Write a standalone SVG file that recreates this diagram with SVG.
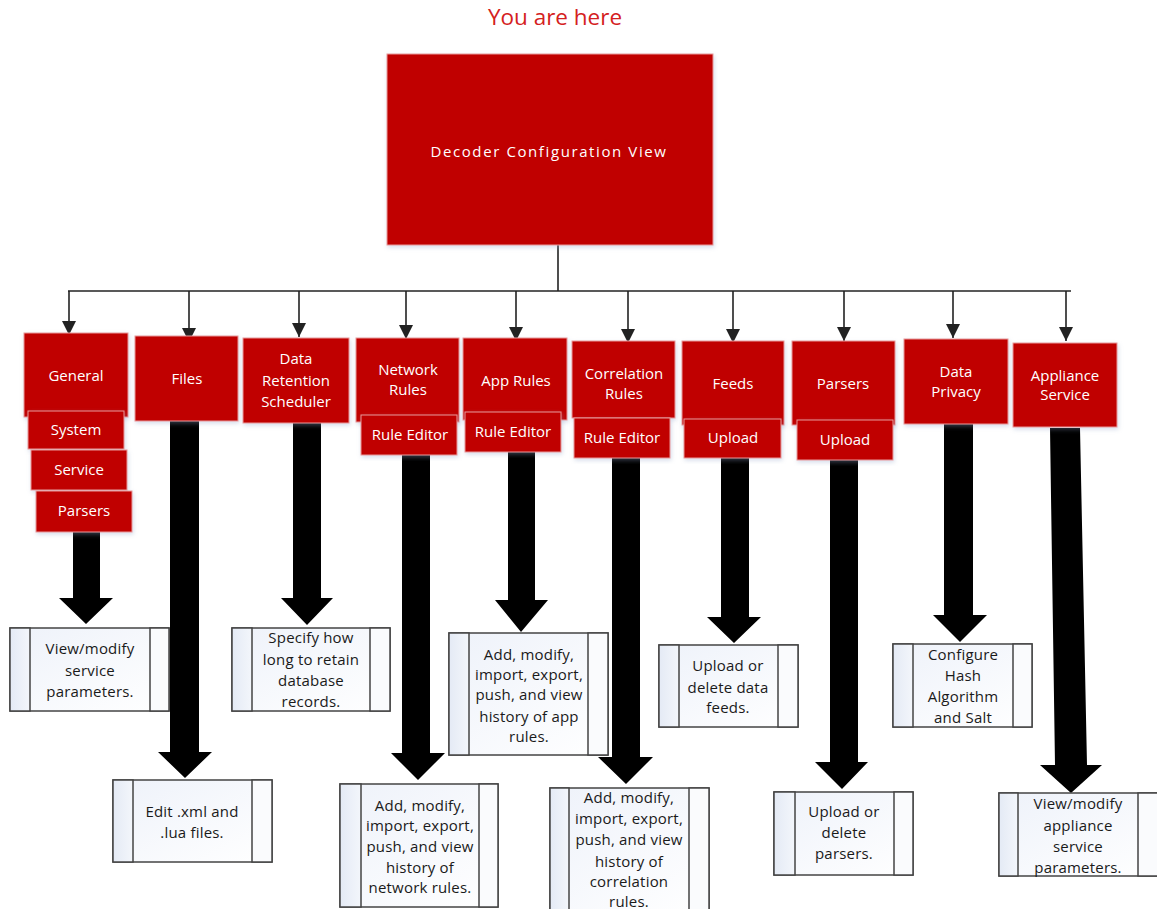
<svg xmlns="http://www.w3.org/2000/svg" width="1157" height="909" viewBox="0 0 1157 909">
<defs>
<marker id="ah" markerWidth="14" markerHeight="14" refX="14" refY="7" orient="auto" markerUnits="userSpaceOnUse">
<path d="M0,0 L14,7 L0,14 Z" fill="#222"/>
</marker>
<linearGradient id="lp" x1="0" y1="0" x2="1" y2="0"><stop offset="0" stop-color="#e4eaf5"/><stop offset="1" stop-color="#f3f6fb"/></linearGradient>
<linearGradient id="mp" x1="0" y1="0" x2="1" y2="1"><stop offset="0" stop-color="#eef2fa"/><stop offset="1" stop-color="#ffffff"/></linearGradient>
<filter id="sh" x="-10%" y="-10%" width="120%" height="125%"><feDropShadow dx="1" dy="2" stdDeviation="2" flood-color="#8aa0c8" flood-opacity="0.35"/></filter>
</defs>
<style>
.red{fill:#c00000;stroke:#e89a9a;stroke-width:1;filter:url(#sh)}
.wt{fill:#ffffff;font-family:"Open Sans","Noto Sans",sans-serif;font-size:15px;text-anchor:middle}
.bt{fill:#1a1a1a;font-family:"Open Sans","Noto Sans",sans-serif;font-size:15px;letter-spacing:0.2px;text-anchor:middle}
.box{fill:url(#mp);stroke:#444;stroke-width:1.5}
.lp{fill:url(#lp);stroke:#444;stroke-width:1.5}
.rp{fill:#fafbfd;stroke:#444;stroke-width:1.5}
.ln{stroke:#222;stroke-width:1.6;fill:none}
.big{fill:#000}
</style>
<rect width="1157" height="909" fill="#ffffff"/>
<text x="555" y="25" font-family="Open Sans, Noto Sans, sans-serif" font-size="22.5" fill="#d42020" text-anchor="middle">You are here</text>

<g id="connectors">
<line class="ln" x1="558" y1="245" x2="558" y2="291"/>
<line class="ln" x1="68" y1="291" x2="1071" y2="291"/>
<line class="ln" x1="69" y1="291" x2="69" y2="335" marker-end="url(#ah)"/>
<line class="ln" x1="189" y1="291" x2="189" y2="342" marker-end="url(#ah)"/>
<line class="ln" x1="299" y1="291" x2="299" y2="337" marker-end="url(#ah)"/>
<line class="ln" x1="406" y1="291" x2="406" y2="339" marker-end="url(#ah)"/>
<line class="ln" x1="516" y1="291" x2="516" y2="341" marker-end="url(#ah)"/>
<line class="ln" x1="628" y1="291" x2="628" y2="343" marker-end="url(#ah)"/>
<line class="ln" x1="733" y1="291" x2="733" y2="343" marker-end="url(#ah)"/>
<line class="ln" x1="844" y1="291" x2="844" y2="341" marker-end="url(#ah)"/>
<line class="ln" x1="953" y1="291" x2="953" y2="338" marker-end="url(#ah)"/>
<line class="ln" x1="1066" y1="291" x2="1066" y2="341" marker-end="url(#ah)"/>
<polygon class="big" points="73,532 100,532 100,598 113,598 86,624 59,598 73,598"/>
<polygon class="big" points="170,421 199,421 199,752 212,752 185,778 158,752 170,752"/>
<polygon class="big" points="293,423 321,423 321,598 333,598 307,625 281,598 293,598"/>
<polygon class="big" points="402,455 430,455 430,753 445,753 418,780 391,753 402,753"/>
<polygon class="big" points="508,452 535,452 535,600 548,600 521,632 495,600 508,600"/>
<polygon class="big" points="612,458 640,458 640,757 653,757 626,784 598,757 612,757"/>
<polygon class="big" points="721,458 749,458 749,617 761,617 734,643 707,617 721,617"/>
<polygon class="big" points="830,460 858,460 858,762 868,762 842,789 815,762 830,762"/>
<polygon class="big" points="944,424 973,424 973,615 987,615 960,642 933,615 944,615"/>
<polygon class="big" points="1050,428 1080,428 1087,765 1102,765 1071,793 1040,765 1055,765"/>
</g>

<g id="decoder">
<rect class="red" x="387" y="54" width="326" height="191"/>
<text class="wt" x="549" y="157" font-size="20" letter-spacing="1.6">Decoder Configuration View</text>
</g>

<g id="general">
<rect class="red" x="24" y="333" width="104" height="84"/>
<text class="wt" x="76" y="381">General</text>
<rect class="red" x="28" y="411" width="96" height="38"/>
<text class="wt" x="76" y="435">System</text>
<rect class="red" x="31" y="450" width="96" height="40"/>
<text class="wt" x="79" y="475">Service</text>
<rect class="red" x="36" y="491" width="96" height="41"/>
<text class="wt" x="84" y="516">Parsers</text>
</g>

<g id="files">
<rect class="red" x="135" y="336" width="103" height="85"/>
<text class="wt" x="187" y="384">Files</text>
</g>

<g id="data-retention">
<rect class="red" x="243" y="338" width="106" height="85"/>
<text class="wt" x="296" y="364">Data</text>
<text class="wt" x="296" y="386">Retention</text>
<text class="wt" x="296" y="407">Scheduler</text>
</g>

<g id="network-rules">
<rect class="red" x="356" y="338" width="103" height="84"/>
<text class="wt" x="408" y="375">Network</text>
<text class="wt" x="408" y="395">Rules</text>
<rect class="red" x="361" y="415" width="96" height="40"/>
<text class="wt" x="410" y="440">Rule Editor</text>
</g>

<g id="app-rules">
<rect class="red" x="463" y="338" width="104" height="82"/>
<text class="wt" x="516" y="386">App Rules</text>
<rect class="red" x="465" y="412" width="96" height="40"/>
<text class="wt" x="513" y="437">Rule Editor</text>
</g>

<g id="correlation-rules">
<rect class="red" x="572" y="341" width="103" height="77"/>
<text class="wt" x="624" y="379">Correlation</text>
<text class="wt" x="624" y="399">Rules</text>
<rect class="red" x="574" y="418" width="96" height="40"/>
<text class="wt" x="622" y="443">Rule Editor</text>
</g>

<g id="feeds">
<rect class="red" x="682" y="341" width="102" height="84"/>
<text class="wt" x="733" y="389">Feeds</text>
<rect class="red" x="684" y="419" width="97" height="39"/>
<text class="wt" x="733" y="443">Upload</text>
</g>

<g id="parsers">
<rect class="red" x="792" y="341" width="103" height="84"/>
<text class="wt" x="843" y="389">Parsers</text>
<rect class="red" x="797" y="420" width="96" height="40"/>
<text class="wt" x="845" y="445">Upload</text>
</g>

<g id="data-privacy">
<rect class="red" x="904" y="339" width="104" height="85"/>
<text class="wt" x="956" y="377">Data</text>
<text class="wt" x="956" y="397">Privacy</text>
</g>

<g id="appliance-service">
<rect class="red" x="1013" y="343" width="104" height="84"/>
<text class="wt" x="1065" y="381">Appliance</text>
<text class="wt" x="1065" y="400">Service</text>
</g>

<g id="desc-general">
<rect class="box" x="10" y="628" width="159" height="83"/>
<rect class="lp" x="10" y="628" width="20" height="83"/>
<rect class="rp" x="150" y="628" width="19" height="83"/>
<text class="bt" x="90" y="654">View/modify</text>
<text class="bt" x="90" y="676">service</text>
<text class="bt" x="90" y="697">parameters.</text>
</g>

<g id="desc-files">
<rect class="box" x="113" y="780" width="159" height="82"/>
<rect class="lp" x="113" y="780" width="20" height="82"/>
<rect class="rp" x="252" y="780" width="20" height="82"/>
<text class="bt" x="192" y="817">Edit .xml and</text>
<text class="bt" x="192" y="838">.lua files.</text>
</g>

<g id="desc-retention">
<rect class="box" x="232" y="628" width="158" height="83"/>
<rect class="lp" x="232" y="628" width="20" height="83"/>
<rect class="rp" x="370" y="628" width="20" height="83"/>
<text class="bt" x="311" y="643">Specify how</text>
<text class="bt" x="311" y="665">long to retain</text>
<text class="bt" x="311" y="686">database</text>
<text class="bt" x="311" y="707">records.</text>
</g>

<g id="desc-network">
<rect class="box" x="340" y="784" width="158" height="123"/>
<rect class="lp" x="340" y="784" width="21" height="123"/>
<rect class="rp" x="479" y="784" width="19" height="123"/>
<text class="bt" x="420" y="811">Add, modify,</text>
<text class="bt" x="420" y="831">import, export,</text>
<text class="bt" x="420" y="852">push, and view</text>
<text class="bt" x="420" y="873">history of</text>
<text class="bt" x="420" y="893">network rules.</text>
</g>

<g id="desc-app">
<rect class="box" x="449" y="633" width="159" height="122"/>
<rect class="lp" x="449" y="633" width="20" height="122"/>
<rect class="rp" x="588" y="633" width="20" height="122"/>
<text class="bt" x="529" y="660">Add, modify,</text>
<text class="bt" x="529" y="680">import, export,</text>
<text class="bt" x="529" y="700">push, and view</text>
<text class="bt" x="529" y="722">history of app</text>
<text class="bt" x="529" y="742">rules.</text>
</g>

<g id="desc-correlation">
<rect class="box" x="550" y="788" width="159" height="122"/>
<rect class="lp" x="550" y="788" width="19" height="122"/>
<rect class="rp" x="689" y="788" width="20" height="122"/>
<text class="bt" x="629" y="803">Add, modify,</text>
<text class="bt" x="629" y="824">import, export,</text>
<text class="bt" x="629" y="845">push, and view</text>
<text class="bt" x="629" y="867">history of</text>
<text class="bt" x="629" y="887">correlation</text>
<text class="bt" x="629" y="907">rules.</text>
</g>

<g id="desc-feeds">
<rect class="box" x="659" y="645" width="139" height="82"/>
<rect class="lp" x="659" y="645" width="20" height="82"/>
<rect class="rp" x="778" y="645" width="20" height="82"/>
<text class="bt" x="728" y="671">Upload or</text>
<text class="bt" x="728" y="693">delete data</text>
<text class="bt" x="728" y="713">feeds.</text>
</g>

<g id="desc-parsers">
<rect class="box" x="774" y="792" width="139" height="83"/>
<rect class="lp" x="774" y="792" width="21" height="83"/>
<rect class="rp" x="894" y="792" width="19" height="83"/>
<text class="bt" x="844" y="817">Upload or</text>
<text class="bt" x="844" y="838">delete</text>
<text class="bt" x="844" y="859">parsers.</text>
</g>

<g id="desc-privacy">
<rect class="box" x="893" y="644" width="139" height="83"/>
<rect class="lp" x="893" y="644" width="20" height="83"/>
<rect class="rp" x="1013" y="644" width="19" height="83"/>
<text class="bt" x="963" y="660">Configure</text>
<text class="bt" x="963" y="681">Hash</text>
<text class="bt" x="963" y="702">Algorithm</text>
<text class="bt" x="963" y="723">and Salt</text>
</g>

<g id="desc-appliance">
<rect class="box" x="999" y="793" width="160" height="83"/>
<rect class="lp" x="999" y="793" width="19" height="83"/>
<rect class="rp" x="1138" y="793" width="21" height="83"/>
<text class="bt" x="1078" y="809">View/modify</text>
<text class="bt" x="1078" y="831">appliance</text>
<text class="bt" x="1078" y="852">service</text>
<text class="bt" x="1078" y="873">parameters.</text>
</g>
</svg>
